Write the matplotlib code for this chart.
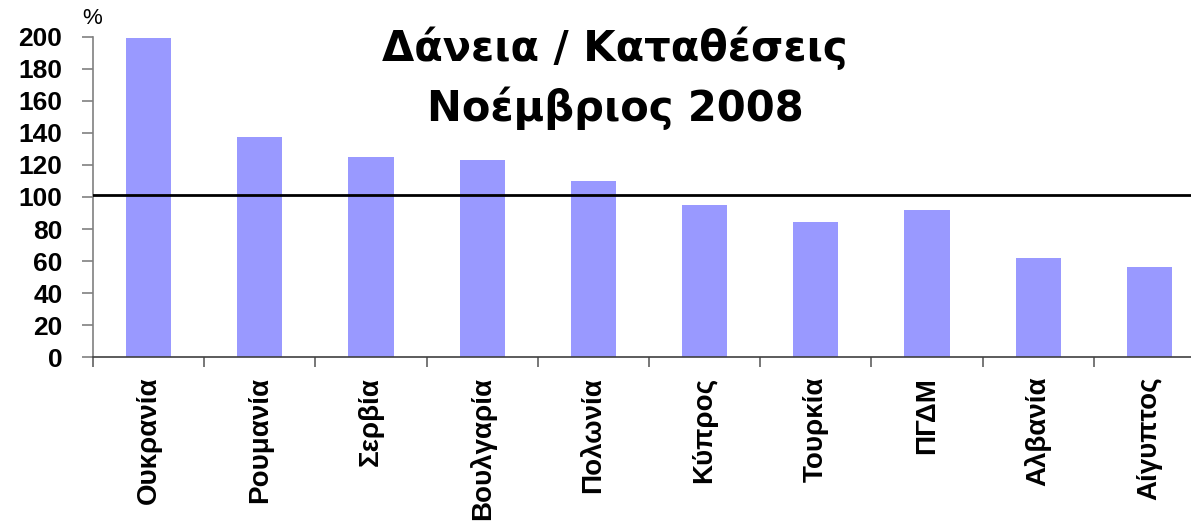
import matplotlib
matplotlib.use("Agg")
import matplotlib.pyplot as plt
import numpy as np

categories = ["Ουκρανία", "Ρουμανία", "Σερβία", "Βουλγαρία", "Πολωνία",
              "Κύπρος", "Τουρκία", "ΠΓΔΜ", "Αλβανία", "Αίγυπτος"]
values = [199, 137.5, 125, 123, 110, 95, 84.5, 92, 62, 56.5]
reference_level = 101
yticks = [0, 20, 40, 60, 80, 100, 120, 140, 160, 180, 200]
title_lines = ["Δάνεια / Καταθέσεις", "Νοέμβριος 2008"]

plt.rcParams['font.family'] = ['Liberation Sans', 'DejaVu Sans']

W, H = 1191, 524
fig = plt.figure(figsize=(W / 100, H / 100), dpi=100)
left = 93 / W
bottom = 1 - 357.3 / H
top = 1 - 36.7 / H
ax = fig.add_axes([left, bottom, 1 - left, top - bottom])

x = np.arange(len(categories))
ax.bar(x, values, width=0.405, color="#9999FF", zorder=2)
ax.axhline(reference_level, color="black", linewidth=2, zorder=3)

for s in ["top", "right"]:
    ax.spines[s].set_visible(False)
ax.spines["left"].set_color("#808080")
ax.spines["bottom"].set_color("#404040")
ax.spines["left"].set_linewidth(1.2)
ax.spines["bottom"].set_linewidth(1.2)

ax.set_yticks(yticks)
ax.set_yticklabels([str(t) for t in yticks], fontsize=19, fontweight="bold")
ax.tick_params(axis="y", direction="out", length=8, width=1.2, color="#808080", pad=14)

ax.set_xticks(x)
ax.set_xticklabels(categories, rotation=90, fontsize=20, fontweight="bold")
ax.tick_params(axis="x", which="major", length=0, pad=14)
ax.set_xticks(np.arange(len(categories) + 1) - 0.5, minor=True)
ax.tick_params(axis="x", which="minor", direction="out", length=7, width=1.2, color="#606060")

# set limits after ticks (set_xticks may expand the view)
ax.set_xlim(-0.5, -0.5 + (W - 93) / 111.2)
ax.set_ylim(0, 200)

fig.text(92.5 / W, 1 - 19 / H, "%", fontsize=16, ha="center", va="center")
fig.text(615 / W, 1 - 60.5 / H, title_lines[0], fontsize=30, fontweight="bold",
         ha="center", va="baseline", family=["DejaVu Sans"])
fig.text(615 / W, 1 - 120.5 / H, title_lines[1], fontsize=30, fontweight="bold",
         ha="center", va="baseline", family=["DejaVu Sans"])

fig.savefig("out.png", dpi=100)
